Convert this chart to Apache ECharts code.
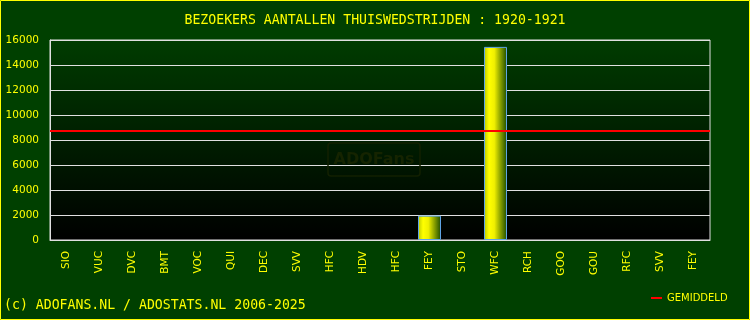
<!DOCTYPE html>
<html>
<head>
<meta charset="utf-8">
<script src="https://cdn.jsdelivr.net/npm/echarts@6/dist/echarts.min.js"></script>
<style>
html,body{margin:0;padding:0;background:#004000;}
#c{width:750px;height:320px;}
</style>
</head>
<body>
<div id="c"></div>
<script>
const titleText = 'BEZOEKERS AANTALLEN THUISWEDSTRIJDEN : 1920-1921';
const footerText = '(c) ADOFANS.NL / ADOSTATS.NL 2006-2025';
const categories = ['SIO','VUC','DVC','BMT','VOC','QUI','DEC','SVV','HFC','HDV','HFC','FEY','STO','WFC','RCH','GOO','GOU','RFC','SVV','FEY'];
const visitors = [null,null,null,null,null,null,null,null,null,null,null,1950,null,15450,null,null,null,null,null,null];
const averageValue = 8750;
const averageName = 'GEMIDDELD';
const yTicks = { min: 0, max: 16000, interval: 2000 };

const chart = echarts.init(document.getElementById('c'), null, {renderer:'canvas'});
chart.setOption({
  backgroundColor: '#004000',
  animation: false,
  title: {
    text: titleText, left: 'center', top: 9,
    textStyle: { fontFamily: 'DejaVu Sans Mono', fontSize: 13.2, fontWeight: 'normal', color: '#ffff00' }
  },
  legend: {
    data: [{ name: averageName, icon: 'rect' }],
    left: 646, top: 288, itemWidth: 11, itemHeight: 2, itemGap: 5,
    textStyle: { color: '#ffff00', fontFamily: 'DejaVu Sans', fontSize: 10 }
  },
  grid: {
    left: 50, right: 40, top: 40, bottom: 80,
    show: true, borderColor: '#e0e0e0', borderWidth: 1,
    backgroundColor: new echarts.graphic.LinearGradient(0,0,0,1,[{offset:0,color:'#003c00'},{offset:1,color:'#000000'}])
  },
  xAxis: {
    type: 'category', data: categories, boundaryGap: true,
    axisLine: { lineStyle: { color: '#e0e0e0' } },
    axisTick: { show: false },
    axisLabel: { rotate: 90, interval: 0, color: '#ffff00', fontFamily: 'DejaVu Sans', fontSize: 10.5, margin: 11 }
  },
  yAxis: {
    type: 'value', min: yTicks.min, max: yTicks.max, interval: yTicks.interval,
    axisLine: { show: true, lineStyle: { color: '#e0e0e0' } },
    axisTick: { show: false },
    splitLine: { lineStyle: { color: '#e0e0e0', width: 1 } },
    axisLabel: { color: '#ffff00', fontFamily: 'DejaVu Sans', fontSize: 10.5, margin: 11, formatter: v => String(v) }
  },
  series: [
    {
      type: 'bar', name: 'BEZOEKERS', data: visitors, barWidth: 23, z: 3,
      itemStyle: {
        borderColor: '#5fa4e6', borderWidth: 1,
        color: new echarts.graphic.LinearGradient(0,0,1,0,[
          {offset:0,color:'#b8c800'},{offset:0.22,color:'#ffff00'},{offset:0.45,color:'#f0f000'},{offset:1,color:'#1a4a00'}
        ])
      }
    },
    {
      type: 'line', name: averageName, data: [], color: '#ff0000',
      lineStyle: { color: '#ff0000', width: 2 },
      markLine: {
        symbol: 'none', silent: true, label: { show: false },
        lineStyle: { color: '#ff0000', width: 2, type: 'solid' },
        data: [{ yAxis: averageValue }]
      },
      z: 5
    }
  ],
  graphic: [
    { type: 'rect', shape: { x: 328, y: 143, width: 92, height: 33, r: 3 }, style: { fill: 'none', stroke: '#122000', lineWidth: 1.5 }, z: 1 },
    { type: 'text', x: 374, y: 160, style: { text: 'ADOFans', fill: '#152400', font: 'bold 16px "DejaVu Sans"', textAlign: 'center', textVerticalAlign: 'middle' }, z: 1 },
    { type: 'text', left: 4, top: 299, style: { text: footerText, fill: '#ffff00', font: '13.2px "DejaVu Sans Mono"' } },
    { type: 'rect', shape: { x: 0.5, y: 0.5, width: 749, height: 319 }, style: { fill: 'none', stroke: '#ffff00', lineWidth: 1 }, z: 10 }
  ]
});
</script>
</body>
</html>
